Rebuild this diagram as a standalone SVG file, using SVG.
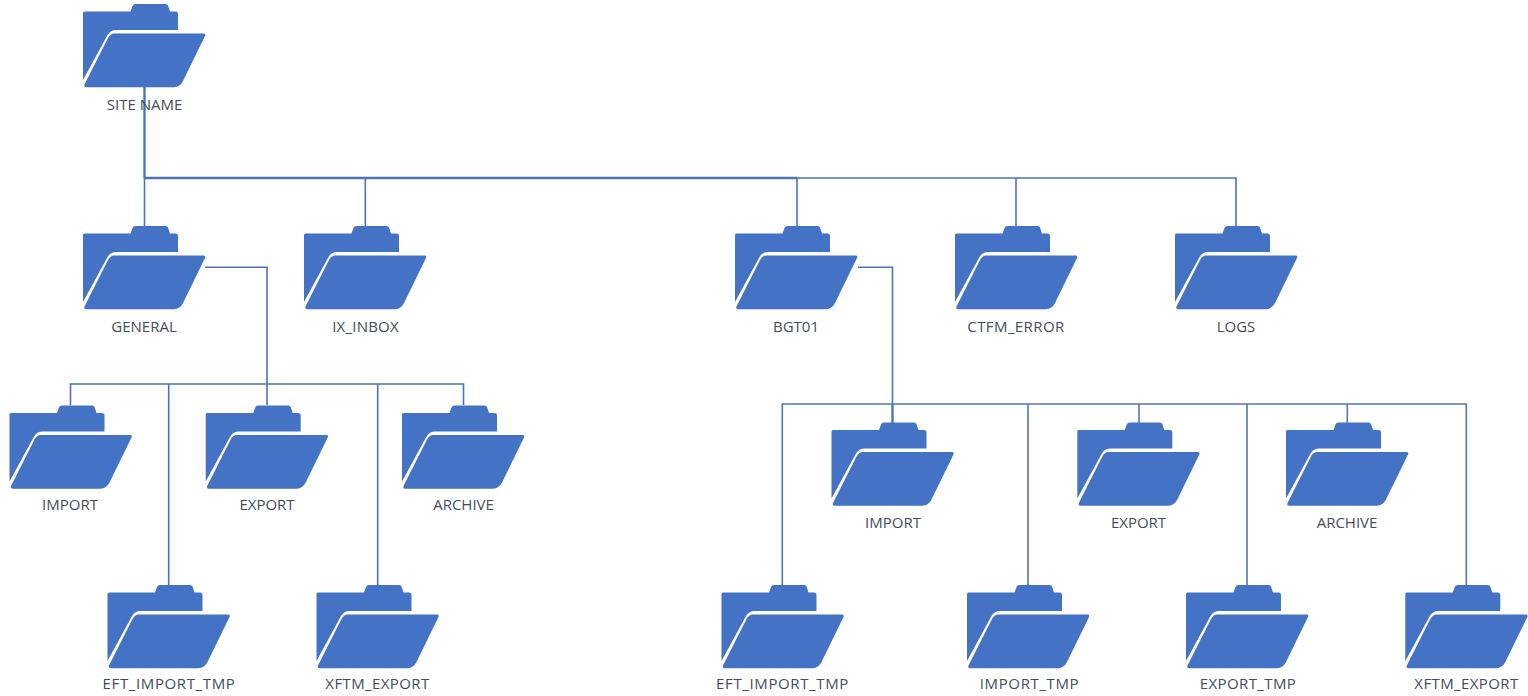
<svg xmlns="http://www.w3.org/2000/svg" width="1528" height="696" viewBox="0 0 1528 696">
<style>
.l{font-family:"Open Sans","Noto Sans","Liberation Sans",sans-serif;font-size:15px;fill:#434d5c;text-anchor:middle}
.s1{letter-spacing:.2px}
.s2{letter-spacing:.4px}
.s3{letter-spacing:.62px}
.c{fill:none;stroke:#4a74bb;stroke-width:1.6}
.r{stroke:#5079b0}
.t{stroke-width:2.4}
.f{fill:#4472c4}
</style>
<defs>
<g id="folder">
<path class="f" d="M0 9Q0 7.5 1.5 7.5H47.5L49.5 2Q50.3 0 52.5 0H82.5Q84.5 0 85 1.5L87 7.5H92.5Q95 7.5 95 10V26H33Q27.5 26 24.5 31L0 76Z"/>
<path class="f" d="M31 29.5H120.5Q123 29.5 122 32L100 77Q97 83 91 83.3H3.5Q0.5 83.3 1.5 80.5L25 34Q27.5 29.5 31 29.5Z"/>
</g>
</defs>
<rect width="1528" height="696" fill="#fff"/>
<g id="connectors">
<path class="c t" d="M144.5 87V178"/>
<path class="c t" d="M144.5 178H797"/>
<path class="c" d="M797 178H1236V226M144.5 178V226M365.3 178V226M797 178V226M1016 178V226"/>
<path class="c" d="M205 267.3H267V405M70.5 405V384H463.5V405M168.7 384V585M377.7 384V585"/>
<path class="c" d="M858 267.3H892.5V404"/>
<path class="c t" d="M892.5 404V423"/>
<path class="c r" d="M782.3 585V404H1466.3V585M1028 404V585M1139 404V423M1247 404V585M1347.3 404V423"/>
</g>
<g id="site-name"><use href="#folder" x="83" y="4"/><text class="l" x="144.5" y="110">SITE NAME</text></g>
<g id="general"><use href="#folder" x="83" y="226"/><text class="l" x="144" y="332">GENERAL</text></g>
<g id="ix-inbox"><use href="#folder" x="304" y="226"/><text class="l s1" x="365.5" y="332">IX_INBOX</text></g>
<g id="bgt01"><use href="#folder" x="735" y="226"/><text class="l" x="796" y="332">BGT01</text></g>
<g id="ctfm-error"><use href="#folder" x="955" y="226"/><text class="l s2" x="1016" y="332">CTFM_ERROR</text></g>
<g id="logs"><use href="#folder" x="1175" y="226"/><text class="l" x="1236" y="332">LOGS</text></g>
<g id="g-import"><use href="#folder" x="9.5" y="405.5"/><text class="l" x="70" y="510">IMPORT</text></g>
<g id="g-export"><use href="#folder" x="205.7" y="405.5"/><text class="l" x="267" y="510">EXPORT</text></g>
<g id="g-archive"><use href="#folder" x="402" y="405.5"/><text class="l" x="463.5" y="510">ARCHIVE</text></g>
<g id="g-eft"><use href="#folder" x="107.5" y="585"/><text class="l s3" x="169" y="689">EFT_IMPORT_TMP</text></g>
<g id="g-xftm"><use href="#folder" x="316.5" y="585"/><text class="l s2" x="377.5" y="689">XFTM_EXPORT</text></g>
<g id="b-import"><use href="#folder" x="831.5" y="422.5"/><text class="l" x="893" y="528">IMPORT</text></g>
<g id="b-export"><use href="#folder" x="1077.3" y="422.5"/><text class="l" x="1138.5" y="528">EXPORT</text></g>
<g id="b-archive"><use href="#folder" x="1286" y="422.5"/><text class="l" x="1347" y="528">ARCHIVE</text></g>
<g id="b-eft"><use href="#folder" x="721.5" y="585"/><text class="l s3" x="782.5" y="689">EFT_IMPORT_TMP</text></g>
<g id="b-import-tmp"><use href="#folder" x="967" y="585"/><text class="l s3" x="1029.5" y="689">IMPORT_TMP</text></g>
<g id="b-export-tmp"><use href="#folder" x="1186" y="585"/><text class="l s2" x="1248" y="689">EXPORT_TMP</text></g>
<g id="b-xftm"><use href="#folder" x="1405.3" y="585"/><text class="l s2" x="1466.5" y="689">XFTM_EXPORT</text></g>
</svg>
